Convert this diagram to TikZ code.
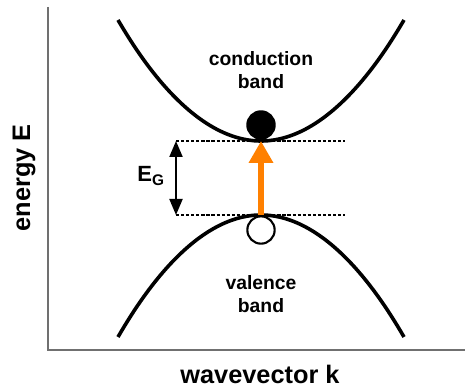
\documentclass[tikz,border=0pt]{standalone}
\usepackage{fontspec}
\setmainfont{Liberation Sans}
\usetikzlibrary{arrows.meta,positioning}
\definecolor{bdorange}{HTML}{FF8000}
\definecolor{bdgray}{HTML}{707070}

\begin{document}
\begin{tikzpicture}[x=0.75pt, y=-0.75pt,
    band/.style={line width=2.7pt},
    level/.style={line width=1.6pt, dash pattern=on 2.4pt off 1.4pt},
    carrier/.style={circle, draw=black, line width=1.6pt, inner sep=0pt, minimum size=20.5pt},
    bandlbl/.style={font=\bfseries\fontsize{14.5}{17.25}\selectfont, align=center},
    axlbl/.style={font=\bfseries\fontsize{19}{22}\selectfont}
  ]
  \useasboundingbox (0,0) rectangle (465,388);

  % Axes
  \coordinate (ytop) at (48,7);
  \coordinate (origin) at (48,350);
  \coordinate (xend) at (465,350);
  \draw[bdgray, line width=1.2pt] (ytop) -- (origin) -- (xend);

  % Band edges
  \coordinate (cbmin) at (261,141);
  \coordinate (vbmax) at (261,215);

  % Conduction and valence band
  \draw[band] (118,20) parabola bend (cbmin) (404,20);
  \draw[band] (118,337) parabola bend (vbmax) (404,337);

  % Dotted band edge levels
  \coordinate (cl) at (176,141);
  \coordinate (cr) at (345,141);
  \coordinate (vl) at (176,215);
  \coordinate (vr) at (345,215);
  \draw[level] (cl) -- (cr);
  \draw[level] (vl) -- (vr);

  % Gap arrow
  \draw[line width=1.5pt, {Triangle[length=12pt,width=9.75pt]}-{Triangle[length=12pt,width=9.75pt]}] (cl) -- (vl);
  \node[font=\bfseries\fontsize{16.5}{18}\selectfont] (gaplbl) at (151,176) {E\textsubscript{G}};

  % Electron and hole
  \node[carrier, fill=black] (electron) at (261,125) {};
  \node[carrier, fill=white] (hole) at (261,230) {};

  % Excitation
  \draw[bdorange, line width=4.25pt, -{Triangle[length=16.5pt,width=17.5pt]}] (vbmax) -- (cbmin);

  % Labels
  \node[bandlbl] (cblbl) at (261,70) {conduction\\band};
  \node[bandlbl] (vblbl) at (261,294) {valence\\band};
  \node[axlbl, rotate=90] (ylbl) at (24,178) {energy E};
  \node[axlbl] (xlbl) at (260,374) {wavevector k};
\end{tikzpicture}
\end{document}
